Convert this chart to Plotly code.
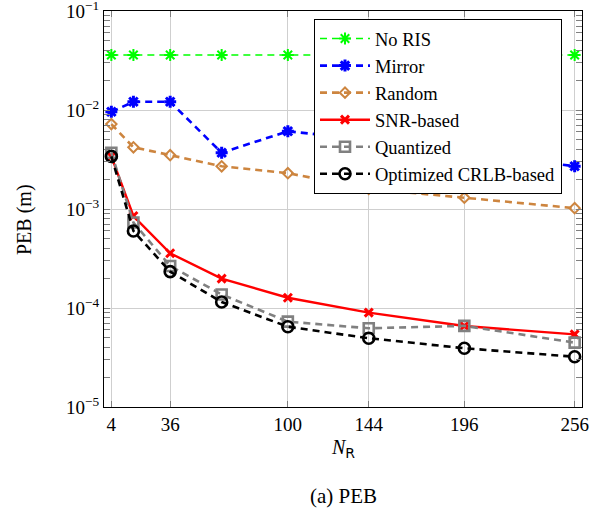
import plotly.graph_objects as go

n_r = [4, 16, 36, 64, 100, 144, 196, 256]
peb_no_ris = [0.036, 0.036, 0.036, 0.036, 0.036, 0.036, 0.036, 0.036]
peb_mirror = [0.0096, 0.0121, 0.0121, 0.0037, 0.0061, 0.0050, 0.0038, 0.0027]
peb_random = [0.0072, 0.0042, 0.0035, 0.0027, 0.0023, 0.0016, 0.0013, 0.00102]
peb_snr = [0.0034, 0.00085, 0.000357, 0.000198, 0.000127, 0.0000897, 0.0000657, 0.0000542]
peb_quant = [0.0037, 0.00073, 0.000266, 0.000137, 0.0000728, 0.0000624, 0.000066, 0.0000447]
peb_opt = [0.0034, 0.00060, 0.000233, 0.000115, 0.0000647, 0.0000495, 0.0000392, 0.0000322]

x_ticks = [4, 36, 100, 144, 196, 256]
y_ticks = [1e-5, 1e-4, 1e-3, 1e-2, 1e-1]
y_tick_text = ["10<sup>−5</sup>", "10<sup>−4</sup>", "10<sup>−3</sup>", "10<sup>−2</sup>", "10<sup>−1</sup>"]

FONT = "Liberation Serif"
DASH = "7px,5px"

# plot area in window pixels (body margin removed by post_script)
L, R, T, B = 104, 582, 11, 407
W, H = 604, 512
PW, PH = R - L, B - T


def px(xw):
    return (xw - L) / PW


def py(yw):
    return 1 - (yw - T) / PH


fig = go.Figure()

series = [
    ("No RIS", peb_no_ris, "#00ff00", DASH, 1.6, "asterisk-open", 10, 2),
    ("Mirror", peb_mirror, "#0000ff", DASH, 2.6, "asterisk-open", 10, 3),
    ("Random", peb_random, "#cd853f", DASH, 2.6, "diamond-open", 8, 2),
    ("SNR-based", peb_snr, "#ff0000", "solid", 2.4, "x-thin-open", 8, 3),
    ("Quantized", peb_quant, "#808080", DASH, 2.6, "square-open", 10, 2.6),
    ("Optimized CRLB-based", peb_opt, "#000000", DASH, 2.6, "circle-open", 11, 2.6),
]
for i, (name, ys, color, dash, lw, sym, ms, mlw) in enumerate(series):
    fig.add_trace(go.Scatter(
        x=n_r, y=ys, name=name, mode="lines+markers", legendgroup=f"g{i}",
        line=dict(color=color, width=lw, dash=dash),
        marker=dict(symbol=sym, size=ms, color=color, line=dict(color=color, width=mlw)),
    ))

fig.add_trace(go.Scatter(x=[], y=[], yaxis="y2", showlegend=False, hoverinfo="skip"))

axis_common = dict(
    showline=True, linecolor="black", linewidth=1.2,
    ticks="inside", tickcolor="#7f7f7f", ticklen=6,
    tickfont=dict(family=FONT, size=19, color="black"),
    ticklabeloverflow="allow",
)

fig.update_layout(
    width=W, height=H,
    margin=dict(l=L, r=W - R, t=T, b=H - B, autoexpand=False),
    paper_bgcolor="white", plot_bgcolor="white",
    font=dict(family=FONT, color="black"),
    xaxis=dict(
        range=[0, 260], tickvals=x_ticks, mirror="ticks",
        showgrid=True, gridcolor="#cfcfcf", gridwidth=1, zeroline=False,
        **axis_common,
    ),
    yaxis=dict(
        type="log", range=[-5, -1], tickvals=y_ticks, ticktext=y_tick_text,
        showgrid=True, gridcolor="#cfcfcf", gridwidth=1, zeroline=False,
        minor=dict(ticks="inside", ticklen=6, tickcolor="#7f7f7f", dtick="D1", showgrid=False),
        **axis_common,
    ),
    yaxis2=dict(
        type="log", range=[-5, -1], overlaying="y", side="right",
        tickvals=y_ticks, showticklabels=False, showgrid=False, zeroline=False,
        showline=True, linecolor="black", linewidth=1.2,
        ticks="inside", tickcolor="#7f7f7f", ticklen=6,
        minor=dict(ticks="inside", ticklen=6, tickcolor="#7f7f7f", dtick="D1", showgrid=False),
    ),
    legend=dict(
        x=px(314), y=py(19), xanchor="left", yanchor="top",
        bgcolor="white", bordercolor="black", borderwidth=1,
        font=dict(family=FONT, size=18.5, color="black"),
        tracegroupgap=0, itemwidth=50,
    ),
    showlegend=True,
)

fig.add_annotation(
    text="PEB (m)", textangle=-90, xref="paper", yref="paper",
    x=px(24), y=py(220), xanchor="center", yanchor="middle",
    showarrow=False, font=dict(family=FONT, size=20, color="black"),
)
fig.add_annotation(
    text="<i>N</i><sub><span style='font-family:DejaVu Sans'>R</span></sub>",
    xref="paper", yref="paper",
    x=px(343), y=py(448), xanchor="center", yanchor="middle",
    showarrow=False, font=dict(family=FONT, size=20, color="black"),
)
fig.add_annotation(
    text="(a) PEB", xref="paper", yref="paper",
    x=px(343), y=py(496), xanchor="center", yanchor="middle",
    showarrow=False, font=dict(family=FONT, size=21, color="black"),
)

fig.write_html("out.html", config={"displayModeBar": False},
               post_script="document.body.style.margin='0';")
